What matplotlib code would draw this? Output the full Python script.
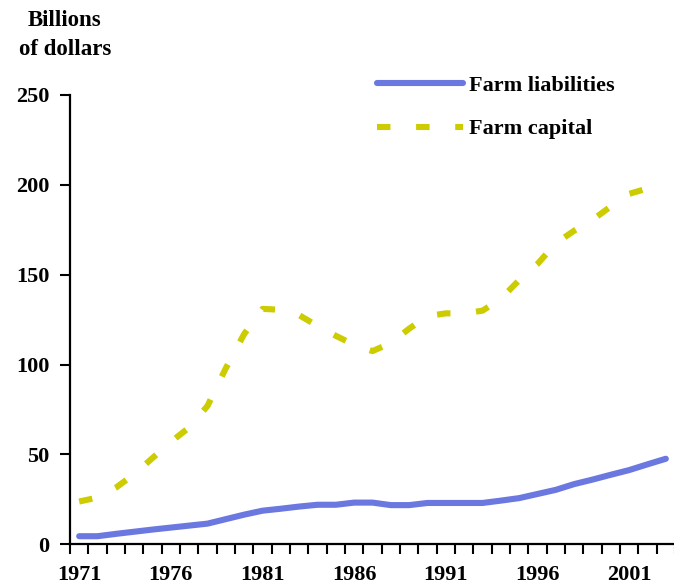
import matplotlib
matplotlib.use("Agg")
import matplotlib.pyplot as plt
import numpy as np

years = list(range(1971, 2004))
farm_liabilities = [4.5, 4.5, 5.8, 7.0, 8.2, 9.3, 10.4, 11.5, 14.0, 16.5,
                    18.7, 19.8, 21.0, 22.0, 22.0, 23.2, 23.2, 21.8, 21.8, 23.0,
                    23.0, 23.0, 23.0, 24.3, 25.7, 28.0, 30.3, 33.5, 36.0, 38.7,
                    41.3, 44.5, 47.6]
farm_capital = [23.8, 26.0, 31.5, 39.0, 48.0, 57.0, 65.0, 77.0, 98.0, 117.0,
                131.0, 130.5, 127.5, 121.5, 116.0, 111.0, 107.5, 112.0, 120.0, 127.0,
                128.5, 128.5, 130.0, 136.6, 147.0, 156.0, 167.5, 174.5, 180.5, 188.0,
                195.0, 198.0, 199.0]
series_names = ["Farm liabilities", "Farm capital"]
y_ticks = [0, 50, 100, 150, 200, 250]
x_label_years = [1971, 1976, 1981, 1986, 1991, 1996, 2001]

plt.rcParams['font.family'] = ['Liberation Serif', 'DejaVu Serif']
plt.rcParams['font.weight'] = 'bold'

W, H = 674, 586
fig = plt.figure(figsize=(W / 100, H / 100), dpi=100)
ax = fig.add_axes([70 / W, (H - 544.3) / H, 605 / W, 449.3 / H])

x = np.arange(len(years))
blue = '#6A78E0'
yellow = '#CCCC00'
ax.plot(x, farm_liabilities, color=blue, lw=4.4, solid_capstyle='round',
        solid_joinstyle='round', label=series_names[0])
ax.plot(x, farm_capital, color=yellow, lw=4.4, dashes=(2.2, 4.2),
        dash_capstyle='butt', label=series_names[1])

ax.set_xlim(-0.5, len(years) - 0.5)
ax.set_ylim(0, 250)

for s in ['top', 'right']:
    ax.spines[s].set_visible(False)
for s in ['left', 'bottom']:
    ax.spines[s].set_linewidth(1.6)
    ax.spines[s].set_color('black')

ax.set_yticks(y_ticks)
ax.set_yticklabels([str(v) for v in y_ticks])
ax.tick_params(axis='y', direction='out', length=7, width=1.5, pad=8,
               labelsize=16)

ax.set_xticks(np.arange(-0.5, len(years) + 0.5, 1.0))
ax.set_xticklabels([])
ax.tick_params(axis='x', which='major', direction='out', length=7, width=1.5)
minor_pos = [years.index(y) for y in x_label_years]
ax.set_xticks(minor_pos, minor=True)
ax.set_xticklabels([str(y) for y in x_label_years], minor=True)
ax.tick_params(axis='x', which='minor', length=0, pad=15, labelsize=16)
for lbl in ax.get_xticklabels(minor=True) + ax.get_yticklabels():
    lbl.set_fontweight('bold')

fig.text(65 / W, 1 - 35 / H, "Billions\nof dollars", ha='center', va='center',
         fontsize=16.5, fontweight='bold', linespacing=1.45)

leg = ax.legend(loc='upper left', bbox_to_anchor=(377 / W, 1 - 75 / H),
                bbox_transform=fig.transFigure, frameon=False,
                prop={'size': 16, 'weight': 'bold'}, handlelength=3.85,
                handletextpad=0.3, labelspacing=1.05, borderpad=0,
                borderaxespad=0)

fig.savefig('out.png', dpi=100)
